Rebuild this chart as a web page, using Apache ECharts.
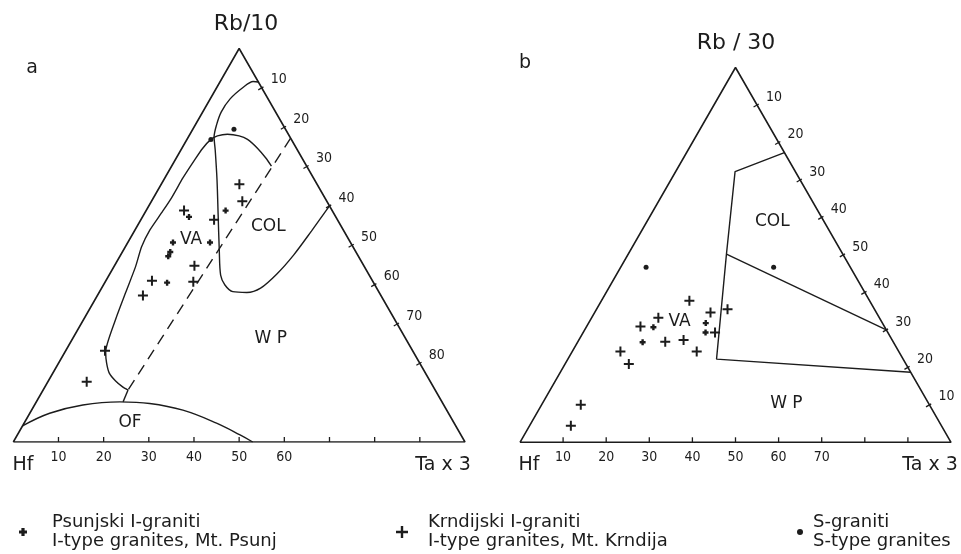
<!DOCTYPE html>
<html><head><meta charset="utf-8">
<script src="https://cdn.jsdelivr.net/npm/echarts@6/dist/echarts.min.js"></script>
<style>html,body{margin:0;padding:0;background:#fff}#c{width:961px;height:554px}</style>
</head><body><div id="c"></div><script>
// ---- data: ternary compositions [Ta x 3 %, Rb %]  (Hf = 100 - Ta - Rb) ----
// diagram a : Hf - Rb/10 - Ta x 3
const A_PSUNJ = [[17.6,58.8],[10.3,57.2],[10.0,50.7],[18.2,50.7],[10.6,48.3],[10.7,47.2],[13.8,40.5]];
const A_KRND  = [[17.3,65.5],[20.1,61.2],[16.2,56.5],[8.4,58.8],[17.7,44.8],[10.2,41.0],[19.5,40.7],[10.1,37.2],[8.7,23.2],[8.6,15.3]];
const A_S     = [[9.1,79.5],[5.3,76.9]];
// diagram b : Hf - Rb/30 - Ta x 3
const B_PSUNJ = [[15.6,30.7],[27.2,31.8],[28.4,29.3],[15.1,26.7]];
const B_KRND  = [[20.4,37.8],[30.4,35.5],[26.9,34.6],[15.5,33.2],[12.5,30.9],[30.6,29.3],[20.3,26.8],[24.3,27.3],[28.9,24.2],[11.2,24.2],[14.8,20.9],[9.1,10.0],[9.6,4.4]];
const B_S     = [[5.9,46.7],[35.5,46.7]];

// field boundaries, diagram a
const A_VA_COL   = [[8.5,91.5],[7.3,91.6],[5.8,90.1],[4.4,87.2],[4.1,83.9],[4.7,80.6],[5.7,77.5],[7.6,74.2],[11.8,66.6],[16.5,57.7],[21.2,48.8],[24.7,42.4],[26.9,39.9],[29.5,38.2],[32.7,38.0],[35.2,39.1],[37.0,42.7],[38.3,47.5],[39.2,53.6],[40,60]];
const A_VA_OUTER = [[18.8,13.2],[17.2,14.0],[14.9,15.5],[12.5,17.5],[10.6,20.1],[9.0,22.9],[7.1,31.0],[5.9,37.9],[4.8,44.5],[3.6,49.6],[3.3,53.9],[3.7,58.2],[4.0,62.0],[4.0,67.1],[4.3,71.7],[4.6,74.6],[5.3,76.9],[6.3,77.8],[8.3,78.2],[11.1,77.8],[13.4,76.9],[16.8,74.6],[19.9,72.1],[22.1,70.1]];
const A_DASHED   = [[22.8,77.2],[18.8,13.2]];
const A_LINK     = [[18.8,13.2],[19.2,10.2]];
const A_OF       = [[0,4.1],[4.4,7.3],[10.7,9.4],[18.5,10.2],[25.3,9.8],[33.5,8.1],[42.6,4.8],[49.3,1.8],[53,0]];
// field boundaries, diagram b
const B_COL   = [[22.7,77.3],[13.8,72.2],[22.8,50.2],[34.5,22.2],[81.3,18.7]];
const B_SPLIT = [[22.8,50.2],[70.0,30.0]];

// field names
const A_FIELDS = [['COL',29.1,54.7],['VA',13.6,51.5],['W P',43.8,26.4],['OF',23.4,4.9]];
const B_FIELDS = [['COL',29.1,58.9],['VA',20.9,32.2],['W P',56.7,10.2]];

// ticks and tick labels
const TICKS = [10,20,30,40,50,60,70,80,90];
const A_BASE_LABELS = ['10','20','30','40','50','60','','',''];
const A_EDGE_TICKS  = [10,20,30,40,50,60,70,80];
const A_EDGE_LABELS = ['10','20','30','40','50','60','70','80'];
const B_BASE_LABELS = ['10','20','30','40','50','60','70','',''];
const B_EDGE_LABELS = ['10','20','30','40','50','40','30','20','10'];

const LEGEND_NAMES = ['Psunjski I-graniti','Krndijski I-graniti','S-graniti'];
const LEGEND_TEXT  = ['Psunjski I-graniti\nI-type granites, Mt. Psunj','Krndijski I-graniti\nI-type granites, Mt. Krndija','S-graniti\nS-type granites'];

// ---- helpers ----
const INK = '#1c1c1c';
const FONT = "'DejaVu Sans', sans-serif";
const NARROW = "'Liberation Sans Narrow', 'DejaVu Sans Condensed', sans-serif";
function tern(p){ return [p[0] + p[1] / 2, p[1]]; }

function lineS(gi, pts, extra){
  return Object.assign({type:'line', xAxisIndex:gi, yAxisIndex:gi, data:pts.map(tern), symbol:'none',
    silent:true, animation:false, lineStyle:{color:INK, width:1.4}, z:2}, extra||{});
}
const PLUS_BIG = 'path://M4,0H6V4H10V6H6V10H4V6H0V4H4Z';
const PLUS_SMALL = 'path://M3,0H7V3H10V7H7V10H3V7H0V3H3Z';
function scatterS(gi, name, pts, symbol, size){
  return {type:'scatter', name, xAxisIndex:gi, yAxisIndex:gi, data:pts.map(tern), symbol, symbolSize:size,
    itemStyle:{color:INK, opacity:1}, animation:false, z:4};
}
function fieldS(gi, fields){
  return {type:'scatter', xAxisIndex:gi, yAxisIndex:gi, symbolSize:0, silent:true, animation:false,
    itemStyle:{opacity:1},
    data:fields.map(f=>({name:f[0], value:tern([f[1],f[2]])})),
    label:{show:true, position:'inside', formatter:p=>p.name, color:INK, opacity:1, fontSize:17, fontFamily:FONT}};
}
function tickS(gi, edge, values, labels){
  return {type:'custom', xAxisIndex:gi, yAxisIndex:gi, silent:true, animation:false, z:3,
    data: values.map(v => edge === 'base' ? tern([v,0]) : tern([v,100 - v])),
    renderItem(params, api){
      const p = api.coord([api.value(0), api.value(1)]);
      const lbl = labels[params.dataIndex];
      let shape, tx, ty;
      if (edge === 'base'){ shape = {x1:p[0], y1:p[1], x2:p[0], y2:p[1]-5}; tx = p[0]; ty = p[1]+15; }
      else { const nx = 0.866, ny = -0.5;
        shape = {x1:p[0]-4*nx, y1:p[1]-4*ny, x2:p[0]+2*nx, y2:p[1]+2*ny}; tx = p[0]+17; ty = p[1]-8; }
      return {type:'group', children:[
        {type:'line', shape, style:{stroke:INK, lineWidth:1.3}},
        {type:'text', x:tx, y:ty, style:{text:lbl, fill:INK, font:'14px '+NARROW, align:'center', verticalAlign:'middle'}}
      ]};
    }};
}
const OUTLINE = [[0,0],[100,0],[0,100],[0,0]];

function diagram(gi, d){
  return [
    lineS(gi, OUTLINE, {lineStyle:{color:INK, width:1.6}}),
    ...d.curves,
    tickS(gi, 'base', TICKS, d.baseLabels),
    tickS(gi, 'edge', d.edgeTicks, d.edgeLabels),
    fieldS(gi, d.fields),
    scatterS(gi, LEGEND_NAMES[0], d.psunj, PLUS_SMALL, 6),
    scatterS(gi, LEGEND_NAMES[1], d.krnd, PLUS_BIG, 10),
    scatterS(gi, LEGEND_NAMES[2], d.s, 'circle', 5)
  ];
}

const series = [
  ...diagram(0, {
    curves:[
      lineS(0, A_VA_COL, {smooth:0.3}),
      lineS(0, A_VA_OUTER, {smooth:0.2}),
      lineS(0, A_DASHED, {lineStyle:{color:INK, width:1.4, type:[11,7]}}),
      lineS(0, A_LINK),
      lineS(0, A_OF, {smooth:0.4})
    ],
    baseLabels:A_BASE_LABELS, edgeTicks:A_EDGE_TICKS, edgeLabels:A_EDGE_LABELS, fields:A_FIELDS,
    psunj:A_PSUNJ, krnd:A_KRND, s:A_S}),
  ...diagram(1, {
    curves:[ lineS(1, B_COL), lineS(1, B_SPLIT) ],
    baseLabels:B_BASE_LABELS, edgeTicks:TICKS, edgeLabels:B_EDGE_LABELS, fields:B_FIELDS,
    psunj:B_PSUNJ, krnd:B_KRND, s:B_S})
];

const axisOff = {type:'value', min:0, max:100, show:false};
function txt(x, y, text, size, align){
  return {type:'text', x, y, silent:true,
    style:{text, font:size+'px '+FONT, fill:INK, align:align||'center', verticalAlign:'middle'}};
}
function legendItem(i, left, iconW, pad){
  return {data:[LEGEND_NAMES[i]], left, top:508, orient:'horizontal', itemWidth:iconW, itemHeight:iconW,
    selectedMode:false, formatter:()=>LEGEND_TEXT[i],
    itemStyle:{opacity:1},
    textStyle:{color:INK, fontSize:18, lineHeight:19, fontFamily:FONT, padding:[0,0,0,pad]}};
}

const chart = echarts.init(document.getElementById('c'), null, {renderer:'canvas'});
chart.setOption({
  backgroundColor:'#fff',
  animation:false,
  grid:[
    {left:13.3, top:48.5, width:451.7, height:393.5},
    {left:520, top:67.5, width:431, height:374.8}
  ],
  xAxis:[Object.assign({gridIndex:0}, axisOff), Object.assign({gridIndex:1}, axisOff)],
  yAxis:[Object.assign({gridIndex:0}, axisOff), Object.assign({gridIndex:1}, axisOff)],
  legend:[
    legendItem(0, 14, 8, 20),
    legendItem(1, 391, 12, 15),
    legendItem(2, 792, 6, 5)
  ],
  graphic:[
    txt(246, 24, 'Rb/10', 22), txt(736, 43, 'Rb / 30', 22),
    txt(32, 68, 'a', 19), txt(525, 63, 'b', 19),
    txt(23, 465, 'Hf', 19), txt(443, 465, 'Ta x 3', 19),
    txt(529, 465, 'Hf', 19), txt(930, 465, 'Ta x 3', 19)
  ],
  series
});
</script></body></html>
